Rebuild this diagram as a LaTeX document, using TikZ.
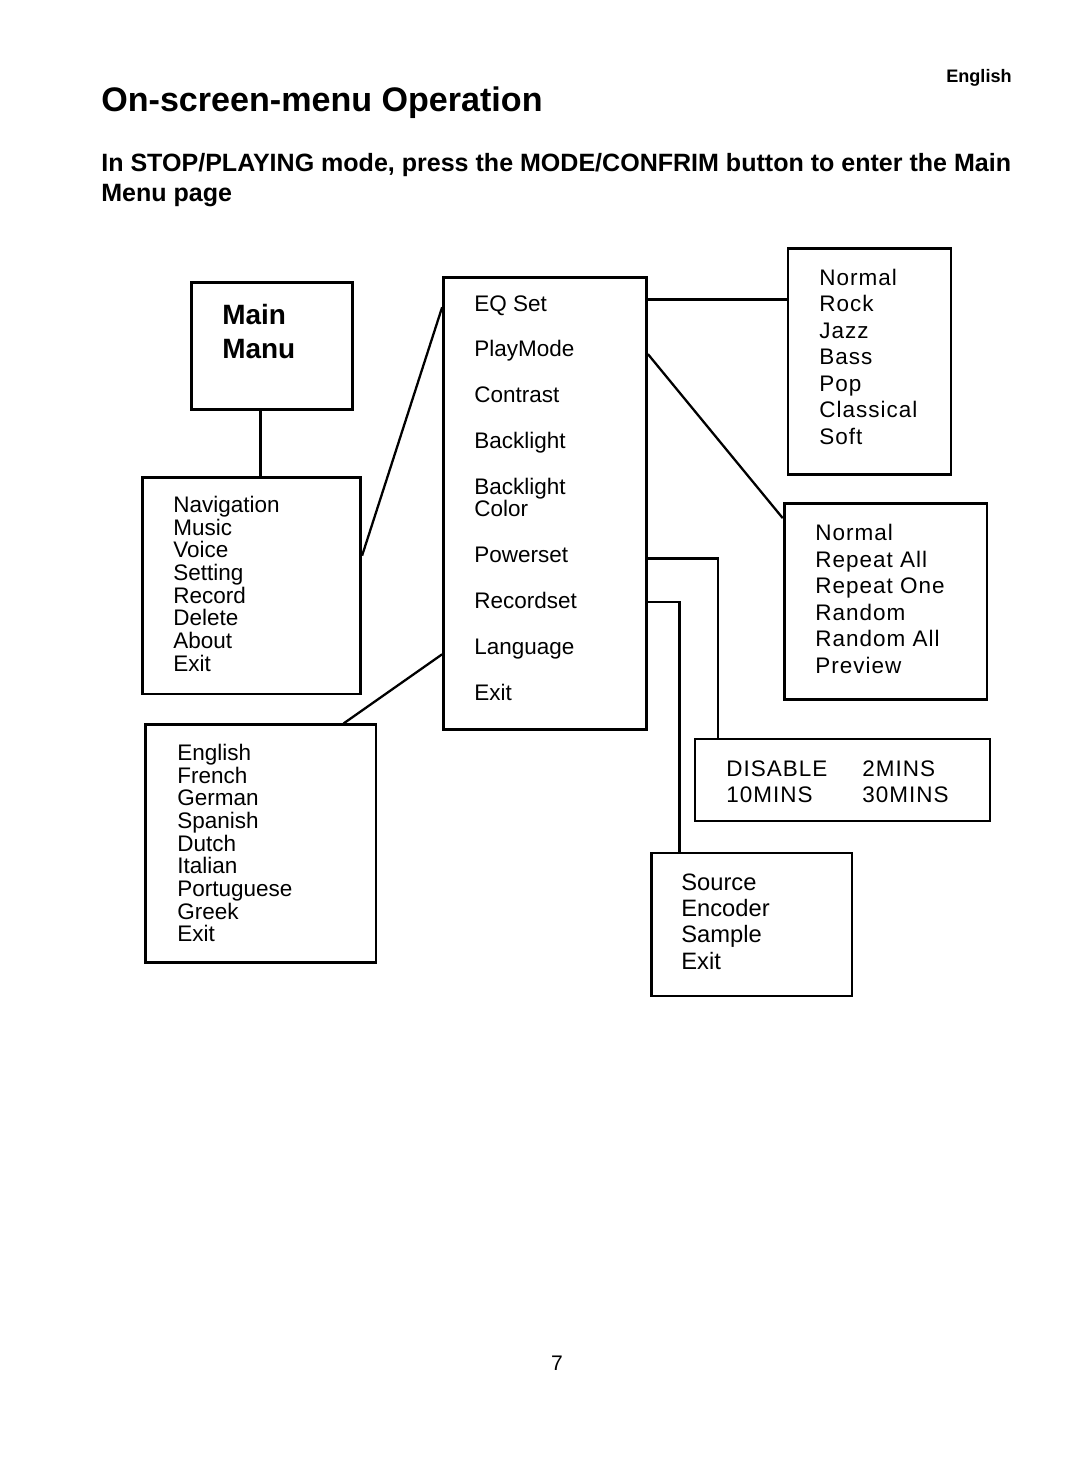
\documentclass[tikz,border=0pt]{standalone}
\usepackage{fontspec}
\setmainfont{Liberation Sans}
\usetikzlibrary{calc}

\begin{document}
\begin{tikzpicture}[x=0.02cm, y=-0.02cm,
  menu/.style={draw, line width=1.6pt, inner sep=0pt},
  item/.style={anchor=base west, inner sep=0pt, align=left, font=\fontsize{12.8}{12.9}\selectfont},
  wide/.style={anchor=base west, inner sep=0pt, align=left, font=\fontsize{12.8}{15.1}\selectfont\addfontfeature{LetterSpace=4.5}},
  link/.style={line width=1.3pt}]

\useasboundingbox (0,0) rectangle (1080,1461);

% page heading (multi-line texts sit on the baseline of their last line)
\node[anchor=base east, inner sep=0pt, font=\fontsize{10.3}{12}\selectfont\bfseries] (hdr) at (1012,82) {English};
\node[anchor=base west, inner sep=0pt, font=\fontsize{19.4}{22}\selectfont\bfseries] (title) at (101,111) {On-screen-menu Operation};
\node[anchor=base west, inner sep=0pt, align=left, font=\fontsize{14.25}{17}\selectfont\bfseries] (intro) at (101,201.7)
  {In STOP/PLAYING mode, press the MODE/CONFRIM button to enter the Main\\Menu page};

% menu boxes
\node[menu, minimum width=3.23cm, minimum height=2.54cm] (main) at (272,345.8) {};
\node[menu, minimum width=4.36cm, minimum height=4.33cm] (nav)  at (251.7,585.7) {};
\node[menu, minimum width=4.06cm, minimum height=9.03cm] (set)  at (545,503.5) {};
\node[menu, minimum width=4.61cm, minimum height=4.75cm] (lang) at (260.75,843.6) {};
\node[menu, minimum width=3.26cm, minimum height=4.52cm] (eq)   at (869.5,361.3) {};
\node[menu, minimum width=4.06cm, minimum height=3.93cm] (mode) at (885.6,601.6) {};
\node[menu, minimum width=5.90cm, minimum height=1.64cm] (pwr)  at (842.5,780) {};
\node[menu, minimum width=4.01cm, minimum height=2.86cm] (rec)  at (751.8,924.5) {};

% box texts
\node[anchor=base west, inner sep=0pt, align=left, font=\fontsize{15.9}{19.3}\selectfont\bfseries] (maintxt) at (222,358.3) {Main\\Manu};
\node[item] (navtxt) at (173,671) {Navigation\\Music\\Voice\\Setting\\Record\\Delete\\About\\Exit};
\node[item] (langtxt) at (177,941.7) {English\\French\\German\\Spanish\\Dutch\\Italian\\Portuguese\\Greek\\Exit};
\node[wide] (eqtxt) at (819,444.3) {Normal\\Rock\\Jazz\\Bass\\Pop\\Classical\\Soft};
\node[wide] (modetxt) at (815,673.3) {Normal\\Repeat All\\Repeat One\\Random\\Random All\\Preview};
\node[wide] (off1) at (726,802.7) {DISABLE\\10MINS};
\node[wide] (off2) at (862,802.7) {2MINS\\30MINS};
\node[anchor=base west, inner sep=0pt, align=left, font=\fontsize{13.5}{15}\selectfont] (rectxt) at (681,969.3) {Source\\Encoder\\Sample\\Exit};

% settings items
\node[item] (sEq)    at (474,311)   {EQ Set};
\node[item] (sPlay)  at (474,356.7) {PlayMode};
\node[item] (sCon)   at (474,402.7) {Contrast};
\node[item] (sBack)  at (474,448.3) {Backlight};
\node[item] (sColor) at (474,516.7) {Backlight\\Color};
\node[item] (sPower) at (474,562.7) {Powerset};
\node[item] (sRec)   at (474,608.3) {Recordset};
\node[item] (sLang)  at (474,654.3) {Language};
\node[item] (sExit)  at (474,700)   {Exit};

% connectors
\coordinate (outEq)    at ($(set.north east)!0.051!(set.south east)$);
\coordinate (outPlay)  at ($(set.north east)!0.171!(set.south east)$);
\coordinate (outPower) at ($(set.north east)!0.621!(set.south east)$);
\coordinate (outRec)   at ($(set.north east)!0.717!(set.south east)$);
\coordinate (outLang)  at ($(set.north west)!0.832!(set.south west)$);

\draw[link] ($(main.south west)!0.43!(main.south east)$) coordinate (mdown) -- (mdown |- nav.north);
\draw[link] ($(nav.north east)!0.363!(nav.south east)$) -- ($(set.north west)!0.068!(set.south west)$);
\draw[link] (outLang) -- ($(lang.north west)!0.855!(lang.north east)$);
\draw[link] (outEq) -- (eq.west |- outEq);
\draw[link] (outPlay) -- ($(mode.north west)!0.081!(mode.south west)$);
\draw[link] (outPower) -| ($(pwr.north west)!0.081!(pwr.north east)$);
\draw[link] (outRec) -| ($(rec.north west)!0.144!(rec.north east)$);

% page number
\node[anchor=base, inner sep=0pt, font=\fontsize{12}{14}\selectfont] (page) at (557,1370) {7};
\end{tikzpicture}
\end{document}
